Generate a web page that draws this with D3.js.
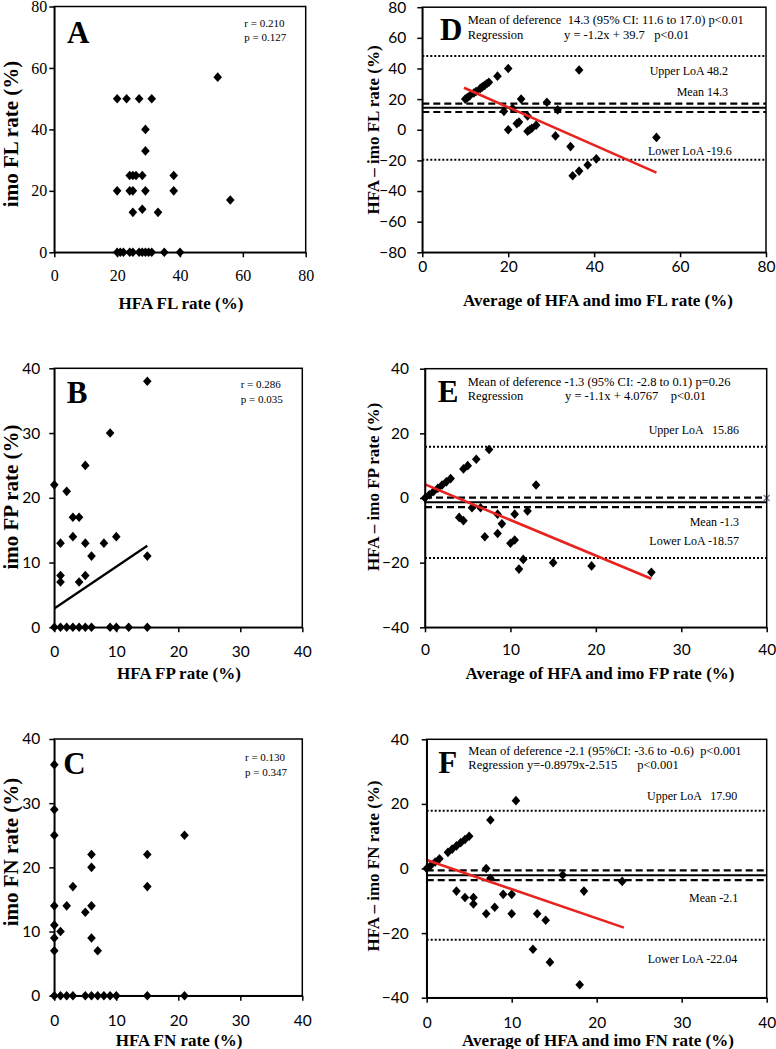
<!DOCTYPE html>
<html>
<head>
<meta charset="utf-8">
<script src="https://cdn.jsdelivr.net/npm/d3@7"></script>
<style>
  body { margin: 0; background: #fff; }
  svg text { white-space: pre; }
</style>
</head>
<body>
<div id="chart"></div>
<script>

// Panel A: HFA FL vs imo FL
const aX = [20, 23, 27, 31, 52, 29, 29, 24, 25, 26, 28, 38, 20, 24, 25, 29, 38, 56, 28, 25, 33,
            20, 21, 22, 24, 25, 27, 28, 29, 30, 31, 35, 40];
const aY = [50, 50, 50, 50, 57, 40, 33, 25, 25, 25, 25, 25, 20, 20, 20, 20, 20, 17, 14, 13, 13,
            0, 0, 0, 0, 0, 0, 0, 0, 0, 0, 0, 0];

// Panel B: HFA FP vs imo FP
const bX = [15, 9, 5, 0, 2, 3, 4, 3, 10, 1, 5, 8, 6, 15, 1, 1, 4, 5,
            0, 1, 2, 3, 4, 5, 6, 9, 10, 12, 15];
const bY = [38, 30, 25, 22, 21, 17, 17, 14, 14, 13, 13, 13, 11, 11, 8, 7, 7, 8,
            0, 0, 0, 0, 0, 0, 0, 0, 0, 0, 0];
const bFitX = [0, 15];
const bFitY = [2.9, 12.6];

// Panel C: HFA FN vs imo FN
const cX = [0, 0, 0, 0, 0, 0, 0, 1, 2, 3, 5, 6, 6, 6, 6, 7, 15, 15, 21,
            0, 1, 2, 3, 5, 6, 7, 8, 9, 10, 15, 21];
const cY = [36, 29, 25, 14, 11, 9, 7, 10, 14, 17, 13, 22, 20, 14, 9, 7, 22, 17, 25,
            0, 0, 0, 0, 0, 0, 0, 0, 0, 0, 0, 0];

// Panel D: Bland-Altman FL
const dX = [10, 10.5, 11, 12, 12.5, 13.5, 14, 14.5, 15, 15.5, 17.5, 20,
            35, 36.5, 38.5, 40.5, 54.5, 34.5, 31, 24.5, 25, 25.5, 26.5, 31.5, 29, 22, 22.5, 20, 24.5, 36.5, 21, 19, 23];
const dY = [20, 21, 22, 24, 25, 27, 28, 29, 30, 31, 35, 40,
            -30, -27, -23, -19, -5, -11, -4, -1, 0, 1, 3, 13, 18, 4, 5, 0, 9, 39, 14, 12, 20];
const dFitX = [9.7, 54.5];
const dFitY = [27.4, -28];
const dRefs = { upper: 48.2, mean: 14.3, ciLow: 11.6, ciHigh: 17.0, lower: -19.6 };

// Panel E: Bland-Altman FP
const eX = [0, 0.5, 1, 1.5, 2, 2.5, 3, 4.5, 5, 6, 7.5,
            13, 4, 4.5, 5.5, 6.5, 8.5, 10.5, 12, 9, 8.5, 7, 10, 10.5, 11, 11.5, 15, 19.5, 26.5];
const eY = [0, 1, 2, 3, 4, 5, 6, 9, 10, 12, 15,
            4, -6, -7, -3, -3, -5, -5, -4, -8, -11, -12, -14, -13, -22, -19, -20, -21, -23];
const eFitX = [0, 26.5];
const eFitY = [4.2, -25];
const eRefs = { upper: 15.86, mean: -1.3, ciLow: -2.8, ciHigh: 0.1, lower: -18.57 };
const eStrayX = [40];
const eStrayY = [0];

// Panel F: Bland-Altman FN
const fX = [0, 0.5, 1, 1.5, 2.5, 3, 3.5, 4, 4.5, 5, 7.5, 10.5,
            7, 7.5, 16, 23, 18.5, 3.5, 4.5, 5.5, 5.5, 7, 8, 9, 10, 10, 13, 14, 12.5, 14.5, 18];
const fY = [0, 1, 2, 3, 5, 6, 7, 8, 9, 10, 15, 21,
            0, -3, -2, -4, -7, -7, -9, -9, -11, -14, -12, -8, -8, -14, -14, -16, -25, -29, -36];
const fFitX = [0, 23.2];
const fFitY = [2.6, -18.3];
const fRefs = { upper: 17.90, mean: -2.1, ciLow: -3.6, ciHigh: -0.6, lower: -22.04 };

const ticks80 = [0, 20, 40, 60, 80];
const ticksBA80 = [-80, -60, -40, -20, 0, 20, 40, 60, 80];
const ticks40 = [0, 10, 20, 30, 40];
const ticksBA40 = [-40, -20, 0, 20, 40];

const SERIF = "'Liberation Serif', 'Times New Roman', serif";
const SANS = "Lato, 'Liberation Sans', sans-serif";

const svg = d3.select("#chart").append("svg")
  .attr("width", 776)
  .attr("height", 1049);

const diamond = "M0,-4.8L4.3,0L0,4.8L-4.3,0Z";

function drawPanel(p) {
  const x = d3.scaleLinear().domain(p.xDomain).range([p.box.l, p.box.r]);
  const y = d3.scaleLinear().domain(p.yDomain).range([p.box.b, p.box.t]);
  const g = svg.append("g");

  // reference lines for Bland-Altman panels
  if (p.refs) {
    const refLine = (v, dash, w) => g.append("line")
      .attr("x1", p.box.l).attr("x2", p.box.r)
      .attr("y1", y(v)).attr("y2", y(v))
      .attr("stroke", "#000")
      .attr("stroke-width", w)
      .attr("stroke-dasharray", dash);
    refLine(p.refs.upper, "2,2", 2);
    refLine(p.refs.lower, "2,2", 2);
    refLine(p.refs.ciLow, "7,4", 2.2);
    refLine(p.refs.ciHigh, "7,4", 2.2);
    refLine(p.refs.mean, null, 2);
  }

  // points
  g.selectAll("path.pt")
    .data(d3.zip(p.xs, p.ys))
    .enter()
    .append("path")
    .attr("class", "pt")
    .attr("d", diamond)
    .attr("transform", d => `translate(${x(d[0])},${y(d[1])})`)
    .attr("fill", "#000");

  // regression line
  if (p.fitX) {
    g.append("line")
      .attr("x1", x(p.fitX[0])).attr("y1", y(p.fitY[0]))
      .attr("x2", x(p.fitX[1])).attr("y2", y(p.fitY[1]))
      .attr("stroke", p.fitColor)
      .attr("stroke-width", p.fitWidth);
  }

  if (p.strayX) {
    g.selectAll("path.stray")
      .data(d3.zip(p.strayX, p.strayY))
      .enter()
      .append("path")
      .attr("class", "stray")
      .attr("d", "M-3,-3L3,3M-3,3L3,-3")
      .attr("transform", d => `translate(${x(d[0])},${y(d[1])})`)
      .attr("stroke", "#7a6a9c")
      .attr("stroke-width", 1.2);
  }

  // frame
  g.append("rect")
    .attr("x", p.box.l).attr("y", p.box.t)
    .attr("width", p.box.r - p.box.l)
    .attr("height", p.box.b - p.box.t)
    .attr("fill", "none")
    .attr("stroke", "#000")
    .attr("stroke-width", 1.5);

  // axes
  const xAxis = g.append("g")
    .attr("transform", `translate(0,${p.box.b})`)
    .call(d3.axisBottom(x).tickValues(p.xTicks).tickSize(5).tickSizeOuter(0).tickPadding(p.xPad));
  const yAxis = g.append("g")
    .attr("transform", `translate(${p.box.l},0)`)
    .call(d3.axisLeft(y).tickValues(p.yTicks).tickSize(5).tickSizeOuter(0).tickPadding(p.yPad));

  [xAxis, yAxis].forEach(a => {
    a.select(".domain").attr("stroke", "#000").attr("stroke-width", 1.5);
    a.selectAll(".tick line").attr("stroke", "#000").attr("stroke-width", 1.5);
    a.selectAll(".tick text")
      .attr("fill", "#000")
      .style("font-family", p.tickFont)
      .style("font-size", p.tickSizePx + "px");
  });

  // axis titles
  g.append("text")
    .attr("x", p.xTitleX)
    .attr("y", p.xTitleY)
    .attr("text-anchor", "middle")
    .style("font-family", SERIF)
    .style("font-weight", "bold")
    .style("font-size", "17px")
    .text(p.xTitle);

  g.append("text")
    .attr("transform", `translate(${p.yTitleX},${p.yTitleY}) rotate(-90)`)
    .attr("dy", "0.35em")
    .attr("text-anchor", "middle")
    .style("font-family", SERIF)
    .style("font-weight", "bold")
    .style("font-size", p.yTitleSize + "px")
    .text(p.yTitle);

  // panel letter
  g.append("text")
    .attr("x", p.letterPos[0])
    .attr("y", p.letterPos[1])
    .style("font-family", SERIF)
    .style("font-weight", "bold")
    .style("font-size", "31px")
    .text(p.letter);

  // annotations
  (p.notes || []).forEach(n => {
    g.append("text")
      .attr("x", n.x).attr("y", n.y)
      .attr("text-anchor", n.anchor || "start")
      .style("font-family", SERIF)
      .style("font-size", (n.size || 12.5) + "px")
      .text(n.t);
  });
}

// left column: scatter plots
drawPanel({
  box: { l: 54.3, r: 305.7, t: 6.5, b: 252.3 },
  xDomain: [0, 80], yDomain: [0, 80], xTicks: ticks80, yTicks: ticks80,
  tickFont: SERIF, tickSizePx: 16, xPad: 12, yPad: 2,
  xs: aX, ys: aY,
  xTitle: "HFA FL rate (%)", xTitleX: 181, xTitleY: 309,
  yTitle: "imo FL rate (%)", yTitleX: 11, yTitleY: 134, yTitleSize: 21,
  letter: "A", letterPos: [67, 42.7],
  notes: [
    { x: 244.3, y: 27.3, t: "r = 0.210", size: 11 },
    { x: 244.3, y: 40.7, t: "p = 0.127", size: 11 }
  ]
});

drawPanel({
  box: { l: 54.3, r: 302.3, t: 368.3, b: 627.3 },
  xDomain: [0, 40], yDomain: [0, 40], xTicks: ticks40, yTicks: ticks40,
  tickFont: SANS, tickSizePx: 15.5, xPad: 14, yPad: 9,
  xs: bX, ys: bY,
  fitX: bFitX, fitY: bFitY, fitColor: "#000", fitWidth: 2.2,
  xTitle: "HFA FP rate (%)", xTitleX: 179, xTitleY: 679,
  yTitle: "imo FP rate (%)", yTitleX: 11, yTitleY: 497, yTitleSize: 21,
  letter: "B", letterPos: [66.7, 403.3],
  notes: [
    { x: 240.7, y: 388, t: "r = 0.286", size: 11 },
    { x: 240.7, y: 403.3, t: "p = 0.035", size: 11 }
  ]
});

drawPanel({
  box: { l: 54.3, r: 302.3, t: 739, b: 995.7 },
  xDomain: [0, 40], yDomain: [0, 40], xTicks: ticks40, yTicks: ticks40,
  tickFont: SANS, tickSizePx: 15.5, xPad: 14, yPad: 9,
  xs: cX, ys: cY,
  xTitle: "HFA FN rate (%)", xTitleX: 179, xTitleY: 1046,
  yTitle: "imo FN rate (%)", yTitleX: 11, yTitleY: 852, yTitleSize: 21,
  letter: "C", letterPos: [63.3, 774.3],
  notes: [
    { x: 245, y: 760.7, t: "r = 0.130", size: 11 },
    { x: 245, y: 775.7, t: "p = 0.347", size: 11 }
  ]
});

// right column: Bland-Altman plots
drawPanel({
  box: { l: 422.3, r: 766, t: 7.2, b: 252.3 },
  xDomain: [0, 80], yDomain: [-80, 80], xTicks: ticks80, yTicks: ticksBA80,
  tickFont: SANS, tickSizePx: 15.5, xPad: 4, yPad: 11,
  xs: dX, ys: dY, refs: dRefs,
  fitX: dFitX, fitY: dFitY, fitColor: "#e8231f", fitWidth: 2.6,
  xTitle: "Average of HFA and imo FL rate (%)", xTitleX: 598, xTitleY: 306,
  yTitle: "HFA \u2013 imo FL rate (%)", yTitleX: 373, yTitleY: 130, yTitleSize: 17,
  letter: "D", letterPos: [440, 40],
  notes: [
    { x: 467.7, y: 24, t: "Mean of deference  14.3 (95% CI: 11.6 to 17.0) p<0.01" },
    { x: 467.7, y: 39, t: "Regression" },
    { x: 564, y: 39, t: "y = -1.2x + 39.7   p<0.01" },
    { x: 728, y: 74.5, t: "Upper LoA 48.2", anchor: "end", size: 12 },
    { x: 728, y: 96, t: "Mean 14.3", anchor: "end", size: 12 },
    { x: 731.7, y: 155, t: "Lower LoA -19.6", anchor: "end", size: 12 }
  ]
});

drawPanel({
  box: { l: 425, r: 766.7, t: 368.7, b: 627.3 },
  xDomain: [0, 40], yDomain: [-40, 40], xTicks: ticks40, yTicks: ticksBA40,
  tickFont: SANS, tickSizePx: 15.5, xPad: 12, yPad: 11,
  xs: eX, ys: eY, refs: eRefs, strayX: eStrayX, strayY: eStrayY,
  fitX: eFitX, fitY: eFitY, fitColor: "#e8231f", fitWidth: 2.6,
  xTitle: "Average of HFA and imo FP rate (%)", xTitleX: 600, xTitleY: 679,
  yTitle: "HFA \u2013 imo FP rate (%)", yTitleX: 373, yTitleY: 487, yTitleSize: 17,
  letter: "E", letterPos: [437.7, 401.7],
  notes: [
    { x: 467.7, y: 386, t: "Mean of deference -1.3 (95% CI: -2.8 to 0.1) p=0.26" },
    { x: 467.7, y: 400.3, t: "Regression" },
    { x: 565, y: 400.3, t: "y = -1.1x + 4.0767    p<0.01" },
    { x: 739, y: 433.8, t: "Upper LoA   15.86", anchor: "end", size: 12 },
    { x: 739, y: 526, t: "Mean -1.3", anchor: "end", size: 12 },
    { x: 739, y: 545, t: "Lower LoA -18.57", anchor: "end", size: 12 }
  ]
});

drawPanel({
  box: { l: 426.7, r: 766.7, t: 739.3, b: 997.7 },
  xDomain: [0, 40], yDomain: [-40, 40], xTicks: ticks40, yTicks: ticksBA40,
  tickFont: SANS, tickSizePx: 15.5, xPad: 14, yPad: 13,
  xs: fX, ys: fY, refs: fRefs,
  fitX: fFitX, fitY: fFitY, fitColor: "#e8231f", fitWidth: 2.6,
  xTitle: "Average of HFA and imo FN rate (%)", xTitleX: 598, xTitleY: 1046,
  yTitle: "HFA \u2013 imo FN rate (%)", yTitleX: 373, yTitleY: 866, yTitleSize: 17,
  letter: "F", letterPos: [438.3, 773.3],
  notes: [
    { x: 468.3, y: 755.3, t: "Mean of deference -2.1 (95%CI: -3.6 to -0.6)  p<0.001" },
    { x: 468.3, y: 769.3, t: "Regression y=-0.8979x-2.515" },
    { x: 637.3, y: 769.3, t: "p<0.001" },
    { x: 737.3, y: 800.3, t: "Upper LoA   17.90", anchor: "end", size: 12 },
    { x: 738.3, y: 901.6, t: "Mean -2.1", anchor: "end", size: 12 },
    { x: 737.3, y: 963, t: "Lower LoA -22.04", anchor: "end", size: 12 }
  ]
});

</script>
</body>
</html>
